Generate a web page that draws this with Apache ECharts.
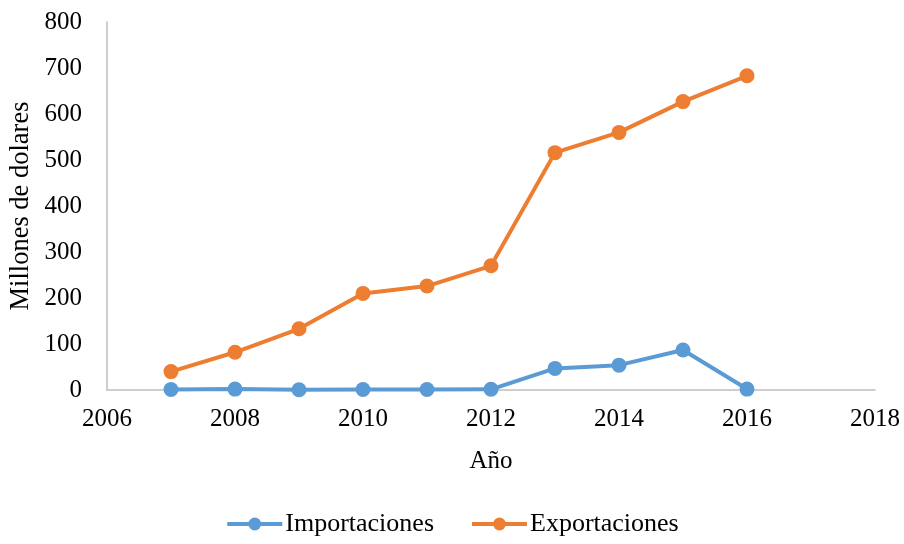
<!DOCTYPE html>
<html>
<head>
<meta charset="utf-8">
<script src="https://cdn.jsdelivr.net/npm/echarts@6/dist/echarts.min.js"></script>
<style>
  html, body { margin: 0; padding: 0; background: #fff; }
  #chart { width: 904px; height: 544px; }
</style>
</head>
<body>
<div id="chart"></div>
<script>
// Trade flows by year, in millions of dollars
const years = [2007, 2008, 2009, 2010, 2011, 2012, 2013, 2014, 2015, 2016];
const importaciones = [1, 2, 0.5, 1, 1, 1.5, 47, 54, 87, 2];
const exportaciones = [40, 82, 133, 210, 226, 270, 516, 560, 627, 683];

const FONT = '"Liberation Serif", "Times New Roman", serif';
const FS = 25;
const AXIS_GREY = '#bfbfbf';

const pairs = (xs, ys) => xs.map((x, i) => [x, ys[i]]);

const chart = echarts.init(document.getElementById('chart'));
chart.setOption({
  backgroundColor: '#ffffff',
  animation: false,
  textStyle: { fontFamily: FONT, color: '#000' },
  grid: {
    left: 107, right: 29, top: 22, bottom: 154,
    containLabel: false,
    outerBoundsMode: 'none'
  },
  xAxis: {
    type: 'value',
    min: 2006,
    max: 2018,
    interval: 2,
    name: 'Año',
    nameLocation: 'middle',
    nameGap: 59,
    nameTextStyle: { fontFamily: FONT, fontSize: FS, color: '#000' },
    axisLine: { show: true, lineStyle: { color: AXIS_GREY, width: 1.5 } },
    axisTick: { show: false },
    splitLine: { show: false },
    axisLabel: {
      fontFamily: FONT, fontSize: FS, color: '#000', margin: 17,
      formatter: (v) => String(v)
    }
  },
  yAxis: {
    type: 'value',
    min: 0,
    max: 800,
    interval: 100,
    name: 'Millones de dolares',
    nameLocation: 'middle',
    nameGap: 72,
    nameMoveOverlap: false,
    nameTextStyle: { fontFamily: FONT, fontSize: 26.5, color: '#000' },
    axisLine: { show: true, lineStyle: { color: AXIS_GREY, width: 1.5 } },
    axisTick: { show: false },
    splitLine: { show: false },
    axisLabel: { fontFamily: FONT, fontSize: FS, color: '#000', margin: 25 }
  },
  legend: {
    bottom: 2,
    left: 'center',
    itemWidth: 55,
    itemHeight: 16,
    itemGap: 36,
    lineStyle: { width: 4 },
    textStyle: { fontFamily: FONT, fontSize: 26, color: '#000', padding: [0, 0, 0, -2] },
    data: ['Importaciones', 'Exportaciones']
  },
  series: [
    {
      name: 'Importaciones',
      type: 'line',
      data: pairs(years, importaciones),
      symbol: 'circle',
      symbolSize: 15,
      lineStyle: { width: 4, color: '#5B9BD5' },
      itemStyle: { color: '#5B9BD5' }
    },
    {
      name: 'Exportaciones',
      type: 'line',
      data: pairs(years, exportaciones),
      symbol: 'circle',
      symbolSize: 15,
      lineStyle: { width: 4, color: '#ED7D31' },
      itemStyle: { color: '#ED7D31' }
    }
  ]
});
</script>
</body>
</html>
